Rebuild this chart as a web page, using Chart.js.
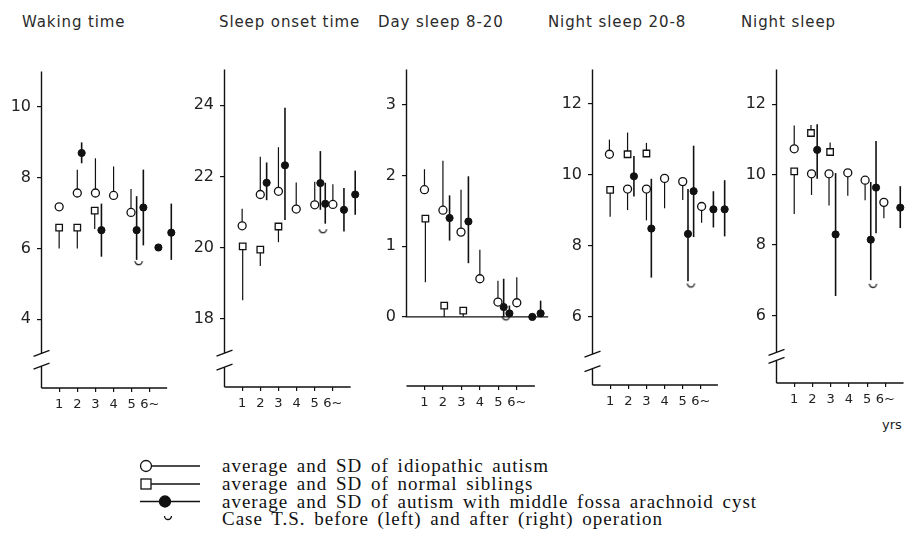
<!DOCTYPE html>
<html>
<head>
<meta charset="utf-8">
<script src="https://cdn.jsdelivr.net/npm/chart.js@4/dist/chart.umd.min.js"></script>
<style>
  body { margin: 0; background: #fff; }
  #page { position: relative; width: 911px; height: 554px; overflow: hidden; font-family: "DejaVu Sans", sans-serif; color: #222; }
  canvas { position: absolute; }
  .title { position: absolute; top: 13px; font-size: 15px; line-height: 18px; white-space: nowrap; color: #2a2a2a; letter-spacing: 0.9px; }
  .key { position: absolute; left: 222px; font-family: "Liberation Serif", serif; font-size: 19px; line-height: 18px; color: #111; white-space: nowrap; letter-spacing: 1px; word-spacing: 3px; }
  #yrs { position: absolute; left: 882px; top: 417px; font-size: 13px; }
  svg { position: absolute; left: 0; top: 0; }
</style>
</head>
<body>
<div id="page">
  <div class="title" style="left:22px">Waking time</div>
  <div class="title" style="left:219px">Sleep onset time</div>
  <div class="title" style="left:378px">Day sleep 8-20</div>
  <div class="title" style="left:548px">Night sleep 20-8</div>
  <div class="title" style="left:741px">Night sleep</div>
  <div id="yrs">yrs</div>

  <svg width="911" height="554">
    <g stroke="#111" stroke-width="1.3" fill="none">
      <line x1="151" y1="466" x2="200" y2="466"/>
      <circle cx="146" cy="466" r="5.5" fill="#fff"/>
      <line x1="151" y1="484" x2="200" y2="484"/>
      <rect x="141" y="479" width="10" height="10" fill="#fff"/>
      <line x1="140" y1="501.5" x2="200" y2="501.5"/>
      <circle cx="165" cy="501.5" r="5.5" fill="#111"/>
      <path d="M164.5 516 A3.5 3.5 0 0 0 171.5 516"/>
    </g>
  </svg>
  <div class="key" style="top:457px">average and SD of idiopathic autism</div>
  <div class="key" style="top:475px">average and SD of normal siblings</div>
  <div class="key" style="top:492.5px">average and SD of autism with middle fossa arachnoid cyst</div>
  <div class="key" style="top:510px">Case T.S. before (left) and after (right) operation</div>
</div>

<script>
const ageTicks = [1, 2, 3, 4, 5, 6]
const ageLabels = ["1", "2", "3", "4", "5", "6~"]

// idiopathic / siblings: [age, mean, end of SD line]
// arachnoid cyst: [age, mean, low, high]
// case T.S.: [age, value]
const wakeTicks = [4, 6, 8, 10]
const wakeIdio = [[1, 7.18, 7.18], [2, 7.57, 8.23], [3, 7.57, 8.55], [4, 7.5, 8.32], [4.96, 7.02, 7.68]]
const wakeSib = [[1, 6.59, 6.0], [2, 6.59, 6.0], [2.96, 7.07, 6.55]]
const wakeCyst = [[2.24, 8.7, 8.41, 9.0], [3.33, 6.52, 5.77, 7.27], [5.27, 6.52, 5.68, 7.48], [5.64, 7.16, 6.09, 8.23], [6.47, 6.03, 6.03, 6.03], [7.18, 6.45, 5.68, 7.27]]
const wakeCase = [[5.38, 5.59]]

const onsetTicks = [18, 20, 22, 24]
const onsetIdio = [[1, 20.61, 21.09], [2, 21.49, 22.55], [3, 21.58, 22.82], [3.98, 21.08, 21.83], [5, 21.2, 21.85], [6, 21.21, 21.78]]
const onsetSib = [[1.03, 20.03, 18.52], [2, 19.94, 19.48], [3, 20.59, 20.15]]
const onsetCyst = [[2.35, 21.82, 21.33, 22.39], [3.36, 22.31, 20.77, 23.93], [5.31, 21.81, 21.06, 22.71], [5.58, 21.23, 20.67, 21.82], [6.61, 21.06, 20.45, 21.67], [7.23, 21.49, 20.92, 22.16]]
const onsetCase = [[5.45, 20.46]]

const daySleepTicks = [0, 1, 2, 3]
const daySleepIdio = [[1, 1.8, 2.09], [2, 1.51, 2.21], [2.98, 1.2, 1.8], [4, 0.54, 0.95], [4.98, 0.21, 0.51], [6, 0.2, 0.56]]
const daySleepSib = [[1.05, 1.39, 0.49], [2.07, 0.16, 0], [3.1, 0.09, 0]]
const daySleepCyst = [[2.36, 1.4, 1.08, 1.72], [3.38, 1.35, 0.76, 1.99], [5.29, 0.14, 0, 0.54], [5.6, 0.05, 0, 0.16], [6.84, 0, 0, 0], [7.29, 0.05, 0, 0.23]]
const daySleepCase = [[5.41, -0.02]]

const night208Ticks = [6, 8, 10, 12]
const night208Idio = [[0.96, 10.57, 10.98], [1.96, 9.59, 9.0], [3, 9.59, 8.71], [4, 9.89, 9.05], [5, 9.8, 9.28], [6.04, 9.1, 8.64]]
const night208Sib = [[1, 9.57, 8.81], [1.96, 10.57, 11.18], [3, 10.59, 10.89]]
const night208Cyst = [[2.31, 9.95, 9.38, 10.52], [3.27, 8.48, 7.1, 9.88], [5.29, 8.33, 7.0, 9.59], [5.6, 9.53, 8.24, 10.81], [6.69, 9.02, 8.51, 9.53], [7.31, 9.02, 8.26, 9.84]]
const night208Case = [[5.45, 6.88]]

const nightTicks = [6, 8, 10, 12]
const nightIdio = [[1, 10.73, 11.39], [1.95, 10.02, 9.42], [2.91, 10.02, 9.12], [3.94, 10.05, 9.4], [4.89, 9.84, 9.27], [5.92, 9.21, 8.76]]
const nightSib = [[1, 10.09, 8.88], [1.92, 11.18, 11.41], [2.97, 10.64, 10.91]]
const nightCyst = [[2.26, 10.7, 9.88, 11.43], [3.27, 8.3, 6.55, 10.04], [5.2, 8.15, 7.0, 9.79], [5.49, 9.63, 8.33, 10.95], [6.82, 9.06, 8.48, 9.67]]
const nightCase = [[5.32, 6.84]]

const panels = [
  { idio: wakeIdio, sib: wakeSib, cyst: wakeCyst, cases: wakeCase, yTicks: wakeTicks,
    L: 40.7, R: 178.2, T: 60, B: 388, xMax: 7.5, yMin: 2.06, yMax: 11, brk: [3.04, 2.68], axisEnd: 6.95 },
  { idio: onsetIdio, sib: onsetSib, cyst: onsetCyst, cases: onsetCase, yTicks: onsetTicks,
    L: 224, R: 361.6, T: 58.2, B: 386.7, xMax: 7.5, yMin: 16.08, yMax: 25, brk: [17.03, 16.64], axisEnd: 6.98 },
  { idio: daySleepIdio, sib: daySleepSib, cyst: daySleepCyst, cases: daySleepCase, yTicks: daySleepTicks,
    L: 406.3, R: 551.2, T: 58.3, B: 386.7, xMax: 7.75, yMin: -0.978, yMax: 3.5, zeroEnd: 7.7, axisEnd: 6.98 },
  { idio: night208Idio, sib: night208Sib, cyst: night208Cyst, cases: night208Case, yTicks: night208Ticks,
    L: 592.3, R: 730.3, T: 58.3, B: 385, xMax: 7.5, yMin: 4.08, yMax: 12.95, brk: [4.95, 4.54], axisEnd: 6.94 },
  { idio: nightIdio, sib: nightSib, cyst: nightCyst, cases: nightCase, yTicks: nightTicks,
    L: 775.5, R: 905.6, T: 58.3, B: 383.3, xMax: 7.03, yMin: 4.08, yMax: 12.98, brk: [4.95, 4.72], axisEnd: 7.0 }
]

const INK = "#111"
const AXIS_W = 40   // room for the y tick labels
const LABEL_H = 40  // room for the x tick labels
const PAD = 4

function cupMark() {
  const c = document.createElement("canvas")
  c.width = 11
  c.height = 8
  const g = c.getContext("2d")
  g.strokeStyle = INK
  g.lineWidth = 1.2
  g.beginPath()
  g.arc(5.5, 2, 3.6, 0, Math.PI)
  g.stroke()
  return c
}
const cup = cupMark()

// SD lines under the markers, axis lines with the break drawn on top
const sdAxes = {
  id: "sdAxes",
  beforeDatasetsDraw(chart) {
    const { ctx, scales: { x, y } } = chart
    chart.data.datasets.forEach(ds => {
      if (!ds.bars) return
      ctx.save()
      ctx.strokeStyle = INK
      ctx.lineWidth = ds.barWidth
      ds.data.forEach((p, i) => {
        const [a, b] = ds.bars[i]
        if (a === b) return
        const px = x.getPixelForValue(p.x)
        ctx.beginPath()
        ctx.moveTo(px, y.getPixelForValue(a))
        ctx.lineTo(px, y.getPixelForValue(b))
        ctx.stroke()
      })
      ctx.restore()
    })
  },
  afterDraw(chart, args, opts) {
    const { ctx, chartArea: a, scales: { x, y } } = chart
    const left = Math.round(a.left) + 0.5
    ctx.save()
    ctx.strokeStyle = INK
    ctx.lineWidth = 1.4
    ctx.beginPath()
    if (opts.zeroEnd) {
      const y0 = y.getPixelForValue(0)
      ctx.moveTo(left, a.top)
      ctx.lineTo(left, y0)
      ctx.lineTo(x.getPixelForValue(opts.zeroEnd), y0)
    } else {
      const b1 = y.getPixelForValue(opts.brk[0])
      const b2 = y.getPixelForValue(opts.brk[1])
      ctx.moveTo(left, a.top)
      ctx.lineTo(left, b1)
      ctx.moveTo(left, b2)
      ctx.lineTo(left, a.bottom)
      ctx.moveTo(left - 8, b1 + 3)
      ctx.lineTo(left + 8, b1 - 3)
      ctx.moveTo(left - 8, b2 + 3)
      ctx.lineTo(left + 8, b2 - 3)
    }
    ctx.moveTo(left, a.bottom)
    ctx.lineTo(x.getPixelForValue(opts.axisEnd), a.bottom)
    ctx.stroke()
    ctx.restore()
  }
}

Chart.defaults.font.family = "DejaVu Sans"
Chart.defaults.color = "#222"

const page = document.getElementById("page")

panels.forEach(p => {
  const left = Math.round(p.L) - AXIS_W
  const top = Math.round(p.T) - PAD
  const width = Math.round(p.R - p.L) + AXIS_W + PAD
  const height = Math.round(p.B - p.T) + PAD + LABEL_H

  const canvas = document.createElement("canvas")
  canvas.width = width
  canvas.height = height
  canvas.style.left = left + "px"
  canvas.style.top = top + "px"
  page.appendChild(canvas)

  new Chart(canvas, {
    type: "scatter",
    data: {
      datasets: [
        {
          data: p.idio.map(r => ({ x: r[0], y: r[1] })),
          bars: p.idio.map(r => [r[1], r[2]]),
          barWidth: 1.2,
          pointStyle: "circle", pointRadius: 4, backgroundColor: "#fff", borderColor: INK, borderWidth: 1.3
        },
        {
          data: p.sib.map(r => ({ x: r[0], y: r[1] })),
          bars: p.sib.map(r => [r[1], r[2]]),
          barWidth: 1.2,
          pointStyle: "rect", pointRadius: 4.6, backgroundColor: "#fff", borderColor: INK, borderWidth: 1.3
        },
        {
          data: p.cyst.map(r => ({ x: r[0], y: r[1] })),
          bars: p.cyst.map(r => [r[2], r[3]]),
          barWidth: 1.6,
          pointStyle: "circle", pointRadius: 3.6, backgroundColor: INK, borderColor: INK, borderWidth: 1
        },
        {
          data: p.cases.map(r => ({ x: r[0], y: r[1] })),
          pointStyle: cup, pointRadius: 4
        }
      ].map(d => ({ ...d, clip: false, showLine: false }))
    },
    options: {
      responsive: false,
      animation: false,
      events: [],
      layout: { padding: { top: PAD, right: PAD, left: 0, bottom: 0 } },
      plugins: {
        legend: { display: false },
        tooltip: { enabled: false },
        sdAxes: { brk: p.brk, zeroEnd: p.zeroEnd, axisEnd: p.axisEnd }
      },
      scales: {
        x: {
          type: "linear", min: 0, max: p.xMax,
          afterBuildTicks: s => { s.ticks = ageTicks.map(v => ({ value: v })) },
          afterFit: s => { s.height = LABEL_H },
          border: { display: false },
          grid: { drawOnChartArea: false, tickLength: 4, color: INK, lineWidth: 1.2 },
          ticks: {
            callback: v => ageLabels[ageTicks.indexOf(v)],
            font: { size: 13 }, padding: 5, maxRotation: 0, autoSkip: false
          }
        },
        y: {
          type: "linear", min: p.yMin, max: p.yMax,
          afterBuildTicks: s => { s.ticks = p.yTicks.map(v => ({ value: v })) },
          afterFit: s => { s.width = AXIS_W },
          border: { display: false },
          grid: { drawOnChartArea: false, tickLength: 4, color: INK, lineWidth: 1.2 },
          ticks: { font: { size: 16 }, padding: 6 }
        }
      }
    },
    plugins: [sdAxes]
  })
})
</script>
</body>
</html>
